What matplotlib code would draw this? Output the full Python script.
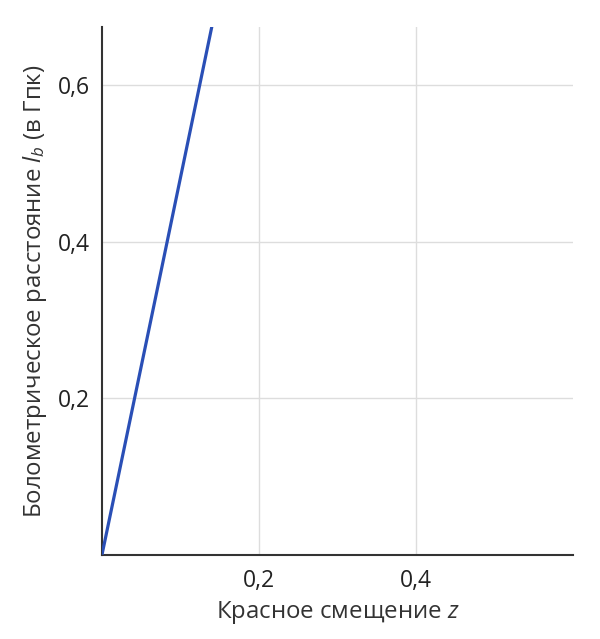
import matplotlib
matplotlib.use('Agg')
import matplotlib.pyplot as plt

plt.rcParams['font.family'] = ['Open Sans', 'DejaVu Sans']
plt.rcParams['mathtext.fontset'] = 'custom'
plt.rcParams['mathtext.it'] = 'Open Sans:italic'
plt.rcParams['mathtext.rm'] = 'Open Sans'

# redshift z vs bolometric distance (Gpc)
z = [0.0, 0.07, 0.14]
dist = [0.0, 0.337, 0.675]

xticks = [0.2, 0.4]
xlabels = ['0,2', '0,4']
yticks = [0.2, 0.4, 0.6]
ylabels = ['0,2', '0,4', '0,6']

fig = plt.figure(figsize=(6, 6.39), dpi=100)
ax = fig.add_axes([0.17, 0.132, 0.785, 0.825])

ax.plot(z, dist, color='#2a4fb6', linewidth=2.3, solid_capstyle='butt', zorder=3)

ax.set_xlim(0, 0.6)
ax.set_ylim(0, 0.6735)
ax.set_xticks(xticks)
ax.set_xticklabels(xlabels)
ax.set_yticks(yticks)
ax.set_yticklabels(ylabels)
ax.tick_params(length=0, labelsize=16.5, colors='#222222')
ax.tick_params(axis='x', pad=10)
ax.tick_params(axis='y', pad=9)
ax.grid(True, color='#dddddd', linewidth=1)
ax.set_axisbelow(True)

for s in ['top', 'right']:
    ax.spines[s].set_visible(False)
for s in ['left', 'bottom']:
    ax.spines[s].set_color('#333333')
    ax.spines[s].set_linewidth(1.5)

ax.set_xlabel('Красное смещение $z$', fontsize=17.3, color='#333333', labelpad=5)
ax.set_ylabel('Болометрическое расстояние $l_b$ (в Гпк)', fontsize=17.3, color='#333333', labelpad=6)

plt.savefig('out.png', dpi=100)
